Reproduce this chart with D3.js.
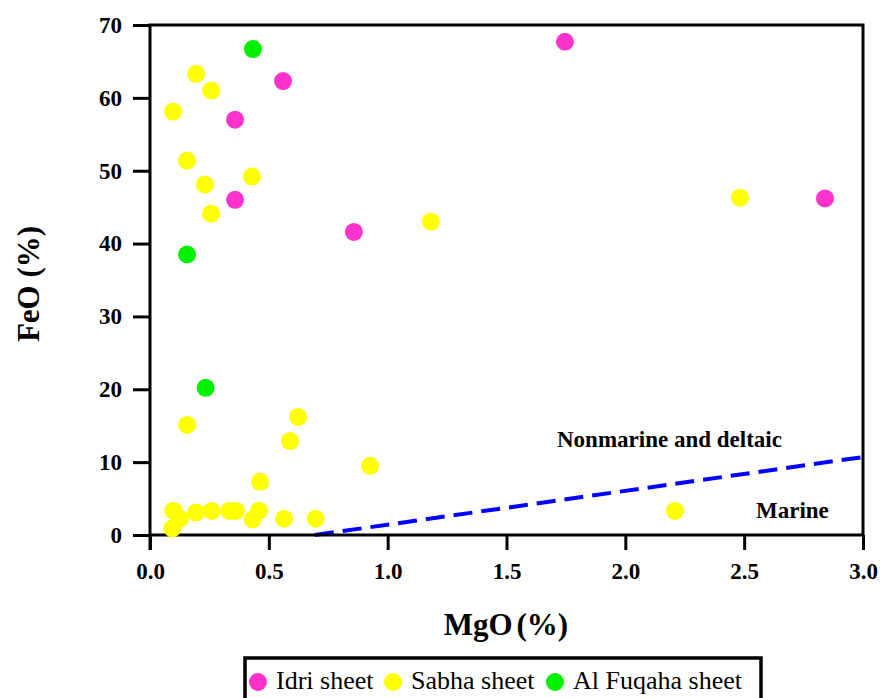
<!DOCTYPE html>
<html><head><meta charset="utf-8">
<script src="https://cdn.jsdelivr.net/npm/d3@7"></script>
<style>body{margin:0;background:#fff}svg{display:block}text{font-family:"Liberation Serif","Times New Roman",serif}</style>
</head><body>
<svg id="chart" width="880" height="698"></svg>
<script>
const xTicks = [0, 0.5, 1.0, 1.5, 2.0, 2.5, 3.0];
const yTicks = [0, 10, 20, 30, 40, 50, 60, 70];
const seriesNames = ["Idri sheet", "Sabha sheet", "Al Fuqaha sheet"];
const seriesColors = ["#ff33cc", "#ffff00", "#00f000"];
const idriMgO = [1.746, 0.56, 0.358, 0.358, 0.858, 2.84];
const idriFeO = [67.7, 62.3, 57.0, 46.0, 41.6, 46.2];
const sabhaMgO = [0.097, 0.194, 0.257, 0.156, 0.231, 0.429, 0.257, 1.182, 2.482, 0.156, 0.623, 0.589, 0.926, 0.463, 2.209,
  0.098, 0.126, 0.094, 0.194, 0.26, 0.334, 0.361, 0.432, 0.459, 0.564, 0.697];
const sabhaFeO = [58.1, 63.3, 61.0, 51.4, 48.1, 49.2, 44.1, 43.0, 46.3, 15.1, 16.2, 12.9, 9.5, 7.3, 3.3,
  3.33, 2.23, 0.92, 3.1, 3.3, 3.3, 3.3, 2.15, 3.33, 2.23, 2.23];
const fuqahaMgO = [0.433, 0.156, 0.234];
const fuqahaFeO = [66.7, 38.5, 20.2];
const boundaryMgO = [0.694, 3.0];
const boundaryFeO = [0, 10.7];

const svg = d3.select("#chart");
const L = 150, R = 863, T = 25, B = 535;
const x = d3.scaleLinear().domain([0, 3]).range([L, R]);
const y = d3.scaleLinear().domain([0, 70]).range([B, T]);

// boundary line
svg.append("line")
  .attr("x1", x(boundaryMgO[0])).attr("y1", y(boundaryFeO[0]))
  .attr("x2", x(boundaryMgO[1])).attr("y2", y(boundaryFeO[1]))
  .attr("stroke", "#0000ff").attr("stroke-width", 4).attr("stroke-dasharray", "19,9");

// frame
svg.append("rect").attr("x", L).attr("y", T).attr("width", R - L).attr("height", B - T)
  .attr("fill", "none").attr("stroke", "#000").attr("stroke-width", 3);

// axes
const xAxis = svg.append("g").attr("transform", `translate(0,${B})`)
  .call(d3.axisBottom(x).tickValues(xTicks).tickFormat(d3.format(".1f")).tickSize(15).tickPadding(13));
const yAxis = svg.append("g").attr("transform", `translate(${L},0)`)
  .call(d3.axisLeft(y).tickValues(yTicks).tickFormat(d3.format("d")).tickSize(17).tickPadding(11));
[xAxis, yAxis].forEach(g => {
  g.select(".domain").remove();
  g.selectAll(".tick line").attr("stroke", "#000").attr("stroke-width", 3);
  g.selectAll(".tick text").attr("font-size", 23).attr("font-weight", "bold").attr("fill", "#000");
});
svg.append("line").attr("x1", L).attr("x2", L).attr("y1", B).attr("y2", B + 15).attr("stroke", "#000").attr("stroke-width", 3);

// region labels
svg.append("text").attr("x", 557).attr("y", 447).attr("font-size", 23).attr("font-weight", "bold").text("Nonmarine and deltaic");
svg.append("text").attr("x", 756).attr("y", 518).attr("font-size", 23).attr("font-weight", "bold").text("Marine");

// points
const series = [
  {mg: idriMgO, fe: idriFeO},
  {mg: sabhaMgO, fe: sabhaFeO},
  {mg: fuqahaMgO, fe: fuqahaFeO}
];
[1, 0, 2].forEach(i => {
  const s = series[i];
  svg.append("g").selectAll("circle").data(s.mg.map((m, k) => [m, s.fe[k]])).join("circle")
    .attr("cx", d => x(d[0])).attr("cy", d => y(d[1])).attr("r", 9).attr("fill", seriesColors[i]);
});

// axis titles
svg.append("text").attr("x", 506).attr("y", 635).attr("text-anchor", "middle")
  .attr("font-size", 31).attr("font-weight", "bold").attr("word-spacing", -4).text("MgO (%)");
svg.append("text").attr("transform", "translate(39,284) rotate(-90)").attr("text-anchor", "middle")
  .attr("font-size", 31).attr("font-weight", "bold").text("FeO (%)");

// legend
svg.append("rect").attr("x", 245).attr("y", 658).attr("width", 516).attr("height", 50)
  .attr("fill", "#fff").attr("stroke", "#000").attr("stroke-width", 3.5);
const legX = [258, 393, 555];
seriesNames.forEach((n, i) => {
  svg.append("circle").attr("cx", legX[i]).attr("cy", 682).attr("r", 9).attr("fill", seriesColors[i]);
  svg.append("text").attr("x", legX[i] + 18).attr("y", 689).attr("font-size", 26).text(n);
});
</script>
</body></html>
